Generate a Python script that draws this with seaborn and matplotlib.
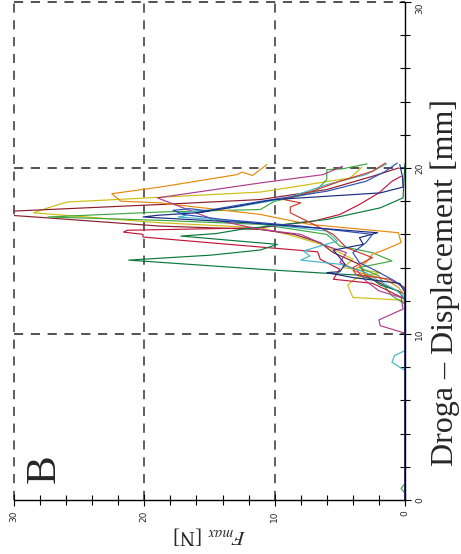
import numpy as np
import pandas as pd
import matplotlib
matplotlib.use("Agg")
import matplotlib.pyplot as plt
import seaborn as sns

# ---- data: displacement d [mm] and force F [N] per specimen ----
yellow_d = [0, 11.9, 12.05, 12.2, 12.95, 13.4, 13.7, 14.0, 14.5, 15.3, 16.0, 16.4, 16.7, 17.3, 17.65, 17.95, 18.55, 19.4, 20.05]
yellow_f = [0, 0, 0.4, 4.0, 4.4, 3.7, 1.9, 4.75, 4.0, 6.0, 9.0, 11.1, 18.8, 28.5, 27.2, 25.9, 11.1, 4.2, 3.3]

maroon_d = [0, 12.4, 12.9, 13.5, 14.2, 14.9, 15.5, 16.0, 16.3, 16.5, 17.0, 17.3, 17.8, 18.1, 18.7, 19.5, 20.0]
maroon_f = [0, 0, 1.5, 3.0, 3.5, 5.5, 6.5, 8.5, 11.1, 18.8, 27.5, 33.0, 18.8, 11.1, 6.0, 2.5, 0.5]

green_d = [0, 0.4, 0.7, 1.0, 11.8, 12.3, 12.8, 13.5, 14.0, 14.4, 14.9, 15.3, 16.0, 16.6, 16.85, 17.05, 17.35, 17.5, 18.0, 18.5, 19.3, 19.9, 19.95, 20.25]
green_f = [0, 0, 0.3, 0, 0, 1.0, 1.5, 2.0, 3.5, 1.0, 2.5, 5.0, 6.0, 11.0, 18.8, 27.4, 18.8, 11.1, 10.0, 7.0, 6.0, 6.0, 4.8, 2.9]

orange_d = [0, 12.3, 12.8, 13.3, 13.8, 14.3, 14.8, 15.1, 15.5, 16.1, 16.6, 17.2, 17.9, 18.0, 18.45, 18.85, 19.6, 19.75, 19.55, 20.2]
orange_f = [0, 0, 0.5, 1.5, 4.0, 3.0, 2.5, 1.5, 0.3, 0.5, 7.3, 11.1, 18.8, 21.8, 22.5, 18.8, 12.9, 12.5, 11.7, 10.6]

crimson_d = [0, 12.1, 12.65, 13.05, 13.3, 13.9, 14.5, 14.95, 15.24, 15.84, 16.0, 16.14, 16.25, 16.4, 16.8, 17.2, 17.8, 18.5, 19.2, 19.5]
crimson_f = [0, 0, 1.4, 2.5, 5.5, 5.0, 6.5, 6.7, 11.1, 20.1, 20.1, 21.6, 21.3, 11.1, 7.0, 5.0, 3.5, 2.0, 1.0, 0.3]

dkgreen_d = [0, 12.0, 12.6, 12.95, 13.3, 13.55, 13.75, 13.9, 14.45, 14.75, 15.06, 15.4, 15.9, 16.05, 16.3, 16.9, 17.6, 18.2, 19.0, 20.25]
dkgreen_f = [0, 0, 0.5, 1.9, 2.5, 3.7, 8.0, 11.1, 21.2, 14.9, 11.1, 9.8, 17.2, 14.5, 12.6, 6.0, 1.9, 0.15, 0.1, 0]

navy_d = [0, 12.5, 13.05, 13.4, 13.7, 13.75, 14.2, 14.6, 15.05, 15.4, 15.8, 16.1, 16.7, 17.05, 17.15, 17.3, 17.6, 18.1, 18.5, 18.85, 19.5, 20.2]
navy_f = [0, 0, 0.4, 4.0, 6.0, 5.0, 4.6, 5.0, 5.5, 3.2, 3.5, 2.1, 12.0, 20.1, 19.0, 16.0, 13.5, 10.0, 1.9, 0.15, 0.2, 0.4]

blue_d = [0, 12.7, 13.2, 13.8, 14.3, 14.9, 15.5, 16.0, 16.5, 16.9, 17.2, 17.45, 17.55, 17.4, 17.3, 17.6, 18.0, 18.6, 19.2, 19.8, 20.3]
blue_f = [0, 0, 0.8, 2.2, 3.5, 4.0, 3.0, 2.5, 8.0, 14.0, 17.0, 17.8, 16.5, 15.0, 16.0, 14.0, 11.0, 6.0, 3.0, 1.5, 0.6]

magenta_d = [0, 10.05, 10.5, 10.85, 11.5, 12.2, 12.6, 13.2, 13.85, 14.3, 14.9, 15.3, 16.0, 16.3, 16.9, 18.2, 19.1, 19.6, 20.1]
magenta_f = [0, 0, 1.9, 2.0, 0.15, 0.3, 2.0, 3.0, 3.7, 5.0, 4.5, 6.0, 8.0, 11.1, 14.7, 19.0, 11.1, 6.3, 4.8]

cyan_d = [0, 7.8, 8.3, 8.7, 9.0, 12.2, 12.7, 13.2, 13.7, 14.2, 14.45, 14.7, 15.0, 15.6, 16.2, 16.8, 17.05, 17.15, 17.3, 17.65, 18.2, 19.0, 19.6, 20.25]
cyan_f = [0, 0, 1.0, 0.8, 0, 0, 0.8, 2.0, 3.0, 5.0, 8.0, 7.3, 7.8, 5.2, 6.0, 13.0, 17.4, 16.8, 17.2, 12.9, 9.0, 6.0, 3.0, 1.4]

red_d = [0, 12.8, 13.3, 13.6, 14.0, 14.6, 15.2, 16.0, 16.8, 17.3, 17.65, 17.9, 18.1, 18.5, 19.2, 19.8, 20.3]
red_f = [0, 0, 1.2, 3.8, 4.0, 2.5, 4.5, 5.5, 7.5, 8.8, 8.8, 8.0, 9.3, 7.5, 5.0, 2.5, 1.5]

curve_names = ["yellow", "maroon", "green", "orange", "crimson", "dkgreen",
               "magenta", "cyan", "red", "blue", "navy"]
curve_colors = ["#CDBE10", "#8C1C2C", "#3FA83F", "#E8890C", "#C0183A", "#0A7A3C",
                "#B03C8C", "#40B8C8", "#D23A2A", "#2C50B8", "#1C2A80"]
curve_data = {
    "yellow": (yellow_d, yellow_f), "maroon": (maroon_d, maroon_f),
    "green": (green_d, green_f), "orange": (orange_d, orange_f),
    "crimson": (crimson_d, crimson_f), "dkgreen": (dkgreen_d, dkgreen_f),
    "navy": (navy_d, navy_f), "blue": (blue_d, blue_f),
    "magenta": (magenta_d, magenta_f), "cyan": (cyan_d, cyan_f),
    "red": (red_d, red_f),
}

rows = []
for name in curve_names:
    d, f = curve_data[name]
    for i, (dv, fv) in enumerate(zip(d, f)):
        rows.append({"curve": name, "order": i, "d": dv, "F": fv})
df = pd.DataFrame(rows)

# ---- figure ----
sns.set_theme(style="white")
plt.rcParams["font.family"] = ["DejaVu Sans"]
plt.rcParams["mathtext.fontset"] = "stix"

W, H = 461, 554
fig = plt.figure(figsize=(W / 100, H / 100), dpi=100)
ax = fig.add_axes([14 / W, (H - 500) / H, 391 / W, 498 / H])

sns.lineplot(data=df, x="F", y="d", hue="curve", hue_order=curve_names,
             palette=dict(zip(curve_names, curve_colors)), sort=False,
             estimator=None, linewidth=0.85, legend=False, ax=ax)

ax.set_xlim(30, 0)
ax.set_ylim(0, 30)

# dashed grid
for v in (10, 20, 30):
    ax.axvline(v, color="#333333", lw=1.1, ls=(0, (6, 5)), clip_on=False, zorder=0)
    ax.axhline(v, color="#222222", lw=1.1, ls=(0, (6, 5)), clip_on=False, zorder=0)

for s in ("top", "left"):
    ax.spines[s].set_visible(False)
for s in ("bottom", "right"):
    ax.spines[s].set_color("black")
    ax.spines[s].set_linewidth(1.0)

ax.yaxis.tick_right()
ax.yaxis.set_label_position("right")
ax.set_xticks([30, 20, 10, 0])
ax.set_yticks([0, 10, 20, 30])
ax.set_xticks(np.arange(0, 31, 2), minor=True)
ax.set_yticks(np.arange(0, 31, 2), minor=True)
ax.tick_params(which="both", direction="inout", color="black", width=0.8,
               bottom=True, right=True, left=False, top=False)
ax.tick_params(which="major", length=9, labelsize=6.5, pad=3)
ax.tick_params(which="minor", length=7)
for lab in ax.get_xticklabels():
    lab.set_rotation(90)
ylabs = ax.get_yticklabels()
for lab in ylabs:
    lab.set_rotation(90)
    lab.set_va("center")
ylabs[-1].set_va("top")

ax.set_xlabel(r"$F_{max}$ [N]", fontsize=15, family="Liberation Serif",
              rotation=180, labelpad=2)
ax.set_ylabel("Droga – Displacement [mm]", fontsize=23,
              family="Liberation Serif", rotation=90, ha="center", va="center")
ax.yaxis.set_label_coords((445 - 14) / 391, (500 - 282) / 498)

ax.text(0.079, 0.064, "B", transform=ax.transAxes, fontsize=31,
        family="Liberation Serif", rotation=90, ha="center", va="center")

fig.savefig("out.png", dpi=100)
